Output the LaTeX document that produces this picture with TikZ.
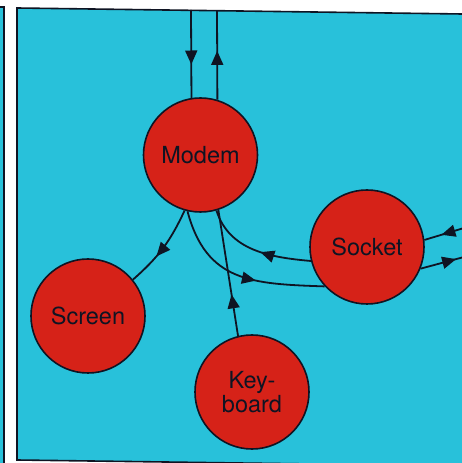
\documentclass[tikz,border=0pt]{standalone}
\usepackage{fontspec}
\setmainfont{TeX Gyre Heros}
\usetikzlibrary{arrows.meta,decorations.markings}
\definecolor{panelblue}{RGB}{40,193,218}
\definecolor{unitred}{RGB}{214,34,24}
\definecolor{linecol}{RGB}{15,20,35}
\newcommand{\unitfont}{\fontsize{23.5}{24}\selectfont}
\begin{document}
\begin{tikzpicture}[
  x=1pt, y=1pt,
  unit/.style={circle, draw=linecol, fill=unitred, line width=1.6pt, minimum size=114pt, inner sep=0pt, font=\unitfont, align=center, text=linecol},
  flow/.style={draw=linecol, line width=1.8pt},
  midarrow/.style={postaction={decorate}, decoration={markings, mark=at position #1 with {\arrow{Triangle[length=14pt,width=12pt]}}}}
]
\useasboundingbox (0,0) rectangle (462,463);
\fill[white] (0,0) rectangle (462,463);
\fill[panelblue] (0,0) rectangle (4,456);
\draw[linecol, line width=1.6pt] (0,456) -- (4,456) -- (4,0);
\fill[panelblue] (17,455) -- (462,449) -- (462,-3) -- (17,3) -- cycle;
\draw[linecol, line width=1.6pt] (462,449) -- (17,455) -- (17,3) -- (462,-3);

\node[unit] (modem) at (200.5,308) {Modem};
\node[unit] (socket) at (367,216) {Socket};
\node[unit] (screen) at (88,147) {Screen};
\node[unit] (keyboard) at (252,71) {Key-\\board};

\coordinate (linein) at (191,453);
\coordinate (lineout) at (217,452);
\coordinate (extin) at (464,235);
\coordinate (extout) at (464,206);

\draw[flow, midarrow=0.62] (linein) -- (modem.99);
\draw[flow, midarrow=0.55] (modem.73) -- (lineout);
\draw[flow, midarrow=0.62] (modem.254) to[bend left=12] (screen.39);
\draw[flow, midarrow=0.6] (modem.257) to[out=-75, in=178, looseness=1.2] (socket.223);
\draw[flow, midarrow=0.45] (socket.194) to[out=175, in=-72] (modem.286);
\draw[flow, midarrow=0.33] (keyboard.104) -- (modem.288);
\draw[flow, midarrow=0.57] (extin) -- (socket.7);
\draw[flow, midarrow=0.82] (socket.338) -- (extout);
\end{tikzpicture}
\end{document}
